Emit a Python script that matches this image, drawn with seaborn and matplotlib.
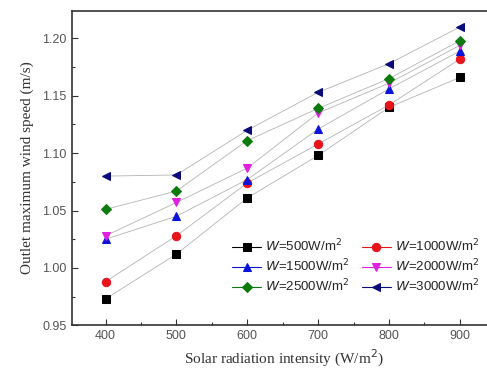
import matplotlib
matplotlib.use("Agg")
import matplotlib.pyplot as plt
import seaborn as sns
import pandas as pd
from matplotlib.ticker import MultipleLocator

# Data
radiation = [400, 500, 600, 700, 800, 900]
w500 = [0.973, 1.012, 1.061, 1.098, 1.140, 1.166]
w1000 = [0.988, 1.028, 1.074, 1.108, 1.142, 1.182]
w1500 = [1.025, 1.045, 1.077, 1.121, 1.156, 1.189]
w2000 = [1.028, 1.057, 1.087, 1.135, 1.161, 1.194]
w2500 = [1.051, 1.067, 1.111, 1.139, 1.165, 1.198]
w3000 = [1.080, 1.081, 1.120, 1.153, 1.178, 1.210]

labels = ["500", "1000", "1500", "2000", "2500", "3000"]
series = [w500, w1000, w1500, w2000, w2500, w3000]
colors = ["#000000", "#e8141b", "#0a14d8", "#e020e0", "#0c7a0c", "#0a0a78"]
markers = ["s", "o", "^", "v", "D", "<"]
msizes = [5.2, 6, 6.2, 6.2, 5.4, 6.2]

df = pd.DataFrame({
    "x": radiation * len(series),
    "y": [v for s in series for v in s],
    "W": [lab for lab in labels for _ in radiation],
})

sns.set_style("white")
fig = plt.figure(figsize=(4.87, 3.76), dpi=100)
ax = fig.add_axes([0.147, 0.135, 0.87, 0.836])

for lab, col, mk, ms in zip(labels, colors, markers, msizes):
    sub = df[df["W"] == lab]
    sns.lineplot(data=sub, x="x", y="y", ax=ax, color="#b4b4b4", lw=0.6,
                 marker=mk, markersize=ms, markerfacecolor=col,
                 markeredgecolor=col, label=f"$W$=" + lab + "W/m$^2$")

ax.set_xlim(352, 950)
ax.set_ylim(0.95, 1.224)
ax.xaxis.set_major_locator(MultipleLocator(100))
ax.xaxis.set_minor_locator(MultipleLocator(50))
ax.yaxis.set_major_locator(MultipleLocator(0.05))
ax.yaxis.set_minor_locator(MultipleLocator(0.025))
ax.yaxis.set_major_formatter(matplotlib.ticker.FormatStrFormatter("%.2f"))
ax.tick_params(which="major", direction="in", length=4, width=0.8,
               labelsize=9, colors="#333333", labelcolor="#555555")
ax.tick_params(which="minor", direction="in", length=2.5, width=0.8, colors="#333333")
ax.tick_params(axis="x", which="both", bottom=True)
ax.tick_params(axis="y", which="both", left=True)
for lbl in ax.get_xticklabels() + ax.get_yticklabels():
    lbl.set_fontfamily("Liberation Sans")
for sp in ax.spines.values():
    sp.set_color("#333333")
    sp.set_linewidth(1.2)

ax.set_xlabel("Solar radiation intensity (W/m$^2$)", fontfamily="Liberation Serif",
              fontsize=11, color="#333333", labelpad=4)
ax.set_ylabel("Outlet maximum wind speed (m/s)", fontfamily="Liberation Serif",
              fontsize=11, color="#333333", labelpad=6)

# legend filled row-wise: reorder handles for two columns
handles, texts = ax.get_legend_handles_labels()
order = [0, 2, 4, 1, 3, 5]
leg = ax.legend([handles[i] for i in order], [texts[i] for i in order],
                ncol=2, frameon=False, loc="lower right", bbox_to_anchor=(0.99, 0.06),
                prop={"family": "Liberation Sans", "size": 9.5},
                columnspacing=0.9, handlelength=2.2, handletextpad=0.3, labelspacing=0.25)
for line, i in zip(leg.get_lines(), order):
    line.set_color(colors[i])
    line.set_linewidth(0.8)

plt.savefig("out.png", dpi=100)
plt.close()
